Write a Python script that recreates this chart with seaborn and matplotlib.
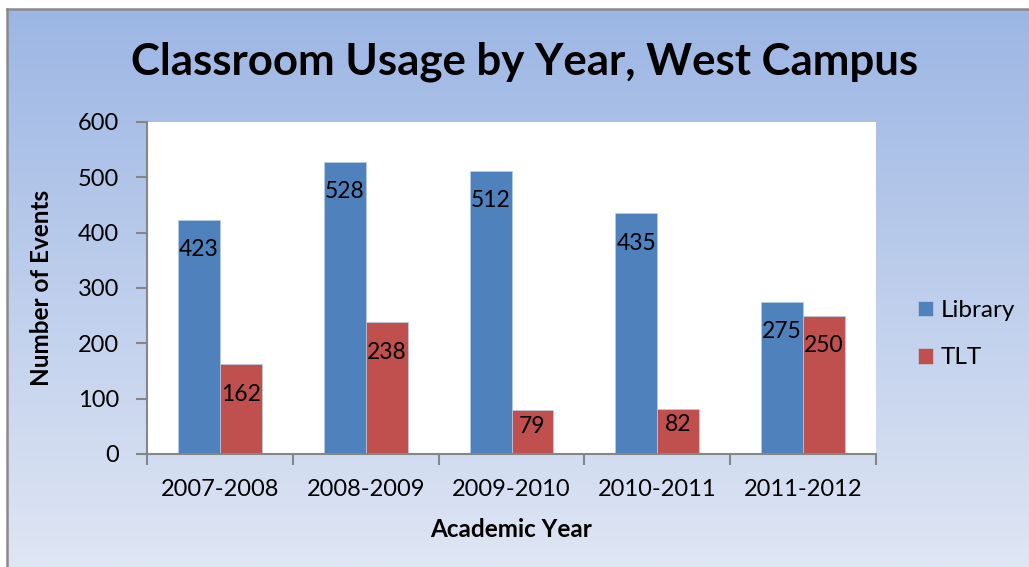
import numpy as np
import pandas as pd
import seaborn as sns
import matplotlib.pyplot as plt
from matplotlib.colors import LinearSegmentedColormap

years = ['2007-2008', '2008-2009', '2009-2010', '2010-2011', '2011-2012']
library = [423, 528, 512, 435, 275]
tlt = [162, 238, 79, 82, 250]
series_names = ['Library', 'TLT']
colors = ['#4f81bd', '#c0504d']

df = pd.DataFrame({
    'Academic Year': years * 2,
    'Number of Events': library + tlt,
    'Series': [series_names[0]] * len(years) + [series_names[1]] * len(years),
})

sns.set_theme(style='white')
plt.rcParams['font.family'] = ['Lato', 'DejaVu Sans']
plt.rcParams['text.color'] = 'black'
plt.rcParams['axes.labelcolor'] = 'black'

W, H = 1029, 567
fig = plt.figure(figsize=(W / 100, H / 100), dpi=100)

# gradient chart background with grey frame on the visible edges
bg = fig.add_axes([7 / W, 0, 1 - 7 / W, 1 - 9 / H], zorder=0)
grad = np.linspace(0, 1, 256).reshape(-1, 1)
cmap = LinearSegmentedColormap.from_list('bg', ['#9cb6e4', '#dfe6f4'])
bg.imshow(grad, aspect='auto', cmap=cmap, extent=[0, 1, 0, 1], origin='upper')
bg.set_xticks([])
bg.set_yticks([])
for side in ['right', 'bottom']:
    bg.spines[side].set_visible(False)
for side in ['left', 'top']:
    bg.spines[side].set_color('#8a8a8a')
    bg.spines[side].set_linewidth(1.8)

ax = fig.add_axes([147 / W, 1 - 454 / H, 729 / W, 332 / H], zorder=1)
ax.set_facecolor('white')
sns.barplot(data=df, x='Academic Year', y='Number of Events', hue='Series',
            palette=colors, width=0.575, saturation=1, ax=ax,
            edgecolor='#b9cde5', linewidth=0.5)

ax.set_xlim(-0.5, 4.5)
ax.set_ylim(0, 600)
ax.set_yticks(range(0, 601, 100))
ax.set_xticks(np.arange(-0.5, 5, 1), minor=True)

for side in ['top', 'right']:
    ax.spines[side].set_visible(False)
for side in ['left', 'bottom']:
    ax.spines[side].set_color('#868686')
    ax.spines[side].set_linewidth(1.5)

ax.tick_params(axis='y', left=True, length=8, width=1.5, color='#868686',
               pad=12, labelsize=17, labelcolor='black')
ax.tick_params(axis='x', which='major', length=0, pad=18, labelsize=17,
               labelcolor='black')
ax.tick_params(axis='x', which='minor', bottom=True, length=8, width=1.5,
               color='#868686')

ax.set_xlabel('Academic Year', fontsize=17.5, fontweight='bold', labelpad=13)
ax.set_ylabel('Number of Events', fontsize=17.5, fontweight='bold', labelpad=18)

# value labels inside the top of each bar
px_per_unit = 332 / 600
for container in ax.containers:
    for bar in container:
        h = bar.get_height()
        off_px = 30 if h * px_per_unit > 60 else 16
        ax.annotate(f'{int(h)}', (bar.get_x() + bar.get_width() / 2, h),
                    xytext=(0, -off_px * 0.72), textcoords='offset points',
                    ha='center', va='center', fontsize=16.5, color='black')

leg = ax.legend(loc='upper left', bbox_to_anchor=(918 / W, 1 - 300 / H),
                bbox_transform=fig.transFigure, frameon=False, fontsize=17.5,
                handlelength=0.62, handleheight=0.62, handletextpad=0.33,
                labelspacing=1.08, borderpad=0, borderaxespad=0, title=None)

fig.text(0.51, 1 - 62 / H, 'Classroom Usage by Year, West Campus',
         ha='center', va='center', fontsize=31.5, fontweight='bold')

fig.savefig('out.png', dpi=100)
